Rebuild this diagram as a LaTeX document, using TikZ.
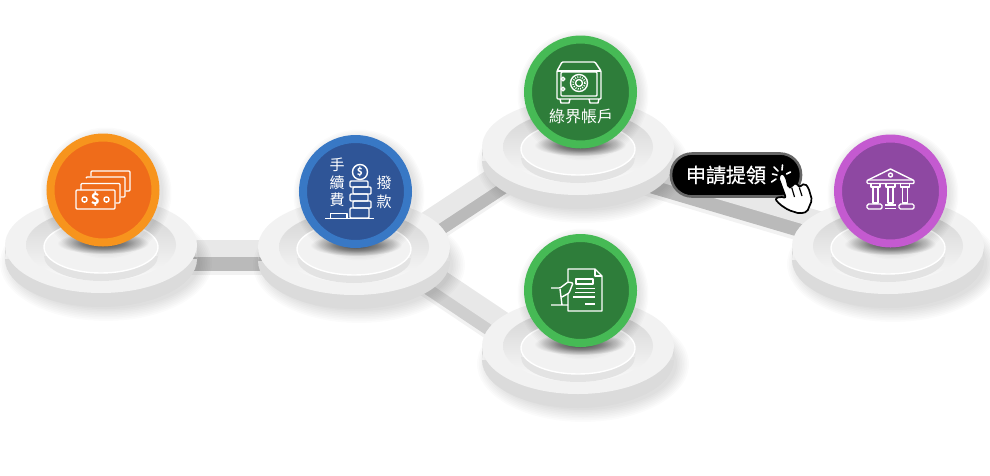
\documentclass[tikz,border=0pt]{standalone}
\usepackage{fontspec}
\newfontfamily\cjk{Noto Sans CJK TC}
\newfontfamily\cjkheavy[FakeBold = 0.6]{Noto Sans CJK TC}
\usetikzlibrary{calc}
\definecolor{moneyring}{HTML}{F7941D}
\definecolor{moneycore}{HTML}{EF6C1A}
\definecolor{feering}{HTML}{3878C5}
\definecolor{feecore}{HTML}{2F5597}
\definecolor{greenring}{HTML}{46BA55}
\definecolor{greencore}{HTML}{2E7D3A}
\definecolor{bankring}{HTML}{C45AD0}
\definecolor{bankcore}{HTML}{8E48A2}

\begin{document}
\begin{tikzpicture}[x = 1pt, y = -1pt,
    ball/.style = {circle, minimum size = 105pt, line width = 8pt, outer sep = 0pt, inner sep = 0pt},
    bartop/.style = {line width = #1, draw = black!9},
    barside/.style = {line width = #1, transform canvas = {yshift = -14pt}},
    barshade/.style = {line width = #1, draw = black, opacity = 0.05, transform canvas = {yshift = -18pt}},
    icon/.style = {draw = white, line width = 1.4pt, line join = round},
    rays/.style = {draw = white, line width = 1.6pt, line cap = round},
    label/.style = {text = white, font = \cjk\fontsize{15}{15}\selectfont, inner sep = 0pt}]
    \useasboundingbox (0, 0) rectangle (990, 475);

    \coordinate (moneybase) at (101, 245);
    \coordinate (feebase) at (354, 247);
    \coordinate (safebase) at (578, 147);
    \coordinate (formbase) at (578, 346);
    \coordinate (bankbase) at (888, 246);

    \coordinate (moneyout) at (150, 248.5);
    \coordinate (feein) at (300, 248.5);
    \coordinate (feeup) at (400, 238.3);
    \coordinate (safein) at (530, 152.6);
    \coordinate (feedown) at (400, 252);
    \coordinate (formin) at (530, 339);
    \coordinate (safeout) at (622, 161.8);
    \coordinate (bankin) at (850, 229);

    \draw [barshade = 17pt] (moneyout) -- (feein);
    \draw [barshade = 18.5pt] (feeup) -- (safein);
    \draw [barshade = 19pt] (feedown) -- (formin);
    \draw [barshade = 17.5pt] (safeout) -- (bankin);
    \draw [barside = 17pt, draw = black!27] (moneyout) -- (feein);
    \draw [barside = 18.5pt, draw = black!27] (feeup) -- (safein);
    \draw [barside = 19pt, draw = black!19] (feedown) -- (formin);
    \draw [barside = 17.5pt, draw = black!27] (safeout) -- (bankin);
    \draw [bartop = 17pt] (moneyout) -- (feein);
    \draw [bartop = 18.5pt] (feeup) -- (safein);
    \draw [bartop = 19pt] (feedown) -- (formin);
    \draw [bartop = 17.5pt] (safeout) -- (bankin);

    \foreach \p in {moneybase, feebase, safebase, formbase, bankbase} {
        \begin{scope}[shift = {(\p)}]
            \foreach \k in {0, ..., 7}
                \fill [black, opacity = 0.014] (5, 18) ellipse [x radius = 94 + \k * 1.7, y radius = 46 + \k * 1.7];
            \fill [black!14] (-96, 0) rectangle (96, 14) (0, 14) ellipse [x radius = 96, y radius = 48];
            \fill [black!5] (0, 0) ellipse [x radius = 96, y radius = 48];
            \shade [top color = black!17, bottom color = black!2] (0, 0) ellipse [x radius = 75, y radius = 36];
            \fill [black!11] (-57, 3) rectangle (57, 11) (0, 11) ellipse [x radius = 57, y radius = 25];
            \draw [white, fill = black!5, line width = 1.4pt] (0, 2) ellipse [x radius = 57, y radius = 26];
            \shade [inner color = black!75, outer color = black!5] (2, -2) ellipse [x radius = 46, y radius = 11];
            \foreach \k in {0, ..., 6}
                \fill [black, opacity = 0.016] (5, -52) circle [radius = 57 + \k * 1.4];
        \end{scope}
    }

    \node (moneyball) [ball, draw = moneyring, fill = moneycore] at ($(moneybase) + (2, -55)$) {};
    \node (feeball) [ball, draw = feering, fill = feecore] at ($(feebase) + (1.5, -55.5)$) {};
    \node (safeball) [ball, draw = greenring, fill = greencore] at ($(safebase) + (2.5, -55)$) {};
    \node (formball) [ball, draw = greenring, fill = greencore] at ($(formbase) + (2.5, -55.5)$) {};
    \node (bankball) [ball, draw = bankring, fill = bankcore] at ($(bankbase) + (2.5, -55)$) {};

    % banknotes
    \draw [icon, rounded corners = 1pt] (91, 176) -- (91, 171) -- (130, 171) -- (130, 191) -- (125.5, 191);
    \draw [icon, rounded corners = 1pt] (86, 178) -- (86, 177) -- (125, 177) -- (125, 197) -- (120.5, 197);
    \draw [icon, rounded corners = 1pt] (81, 190) -- (81, 183.5) -- (120, 183.5) -- (120, 203) -- (115.5, 203);
    \draw [icon, rounded corners = 1pt] (76, 190) rectangle (115, 209);
    \draw [icon] (84.5, 199.5) circle [radius = 2.6] (106.5, 199.5) circle [radius = 2.6];
    \node (dollar) [label, font = \cjk\bfseries\fontsize{15}{15}\selectfont] at (95.5, 199.5) {\$};

    % coins
    \node (feeone) [label] at (337, 165) {手};
    \node (feetwo) [label] at (337, 182.5) {續};
    \node (feethree) [label] at (337, 200) {費};
    \node (drawone) [label] at (384, 183) {撥};
    \node (drawtwo) [label] at (384, 201.5) {款};
    \draw [icon] (360, 172) circle [radius = 7.5];
    \node (coin) [label, font = \cjk\bfseries\fontsize{10}{10}\selectfont] at (360, 172) {\$};
    \draw [icon, rounded corners = 1pt] (350, 181) rectangle (368, 187);
    \draw [icon, rounded corners = 1pt] (353, 187) rectangle (371, 194);
    \draw [icon, rounded corners = 1pt] (350, 194) rectangle (368, 201);
    \draw [icon, rounded corners = 1pt] (353, 201) rectangle (371, 208);
    \draw [icon, rounded corners = 1pt] (350, 208) rectangle (369, 218);
    \draw [icon] (330.5, 218) -- (330.5, 213.5) -- (347, 213.5) -- (347, 218);
    \draw [icon] (325, 218.5) -- (374, 218.5);

    % safe
    \draw [icon, rounded corners = 1pt] (557, 71) -- (562, 62) -- (595, 62) -- (601, 71) -- (601, 99) -- (557, 99) -- cycle;
    \draw [icon] (557, 71) -- (601, 71);
    \draw [icon, rounded corners = 1pt] (561, 72) rectangle (597, 96);
    \draw [icon] (563, 79) circle [radius = 1.8] (563, 89) circle [radius = 1.8];
    \draw [icon] (579, 83) circle [radius = 8.5] (579, 83) circle [radius = 3.5];
    \draw [icon, line width = 1.6pt, dash pattern = on 1pt off 1.4pt] (579, 83) circle [radius = 6];
    \draw [icon] (560, 99) -- (561, 103) -- (569, 103) -- (570, 99);
    \draw [icon] (589, 99) -- (590, 103) -- (598, 103) -- (599, 99);
    \node (safetext) [label, font = \cjk\fontsize{16}{16}\selectfont] at (581, 116) {綠界帳戶};

    % form in hand
    \draw [icon] (568, 282) -- (568, 269) -- (595, 269) -- (602, 276) -- (602, 311) -- (568, 311) -- (568, 294);
    \draw [icon] (595, 269) -- (595, 276) -- (602, 276);
    \draw [icon] (576, 279) rectangle (593, 284);
    \draw [icon] (576, 288.3) -- (595, 288.3) (575, 292.7) -- (595, 292.7) (573, 297) -- (595, 297) (585, 304) -- (595, 304);
    \draw [icon, rounded corners = 1pt] (551, 288) -- (560, 288) -- (568, 282) -- (573, 283) -- (569, 293) -- (562, 297) (560, 289) -- (562, 305) (551, 305) -- (568, 305);

    % bank
    \draw [icon] (868, 180) -- (890.5, 169) -- (913, 180);
    \draw [icon] (890.5, 175) circle [radius = 2];
    \draw [icon, rounded corners = 1pt] (867, 180) rectangle (914, 183.5);
    \draw [icon] (873, 187) rectangle (878, 203) (888, 187) rectangle (893, 203) (902.5, 187) rectangle (907.5, 203);
    \draw [icon] (871, 183.5) -- (871, 187) -- (880, 187) -- (880, 183.5);
    \draw [icon] (886, 183.5) -- (886, 187) -- (895, 187) -- (895, 183.5);
    \draw [icon] (900.5, 183.5) -- (900.5, 187) -- (909.5, 187) -- (909.5, 183.5);
    \draw [icon, rounded corners = 1.5pt] (867, 204) rectangle (882, 209);
    \draw [icon, rounded corners = 1.5pt] (899, 204) rectangle (914, 209);
    \draw [icon] (885, 205) -- (896, 205) (885, 208.5) -- (896, 208.5);

    \node (drawbutton) [draw = black!60, fill = black, line width = 2.6pt, rounded corners = 21pt, minimum width = 130pt, minimum height = 43pt] at (736, 175) {};
    \node (drawtext) [label, font = \cjkheavy\fontsize{20}{20}\selectfont] at (726, 175) {申請提領};
    \draw [rays] (772.5, 174) -- (777, 175) (774, 167) -- (778, 171) (782.5, 165) -- (782, 170) (790.5, 172) -- (786.5, 174) (771.5, 182) -- (776, 179);
    \draw [draw = black, fill = white, line width = 1.7pt, line join = round, rounded corners = 2pt]
        (778.3, 177) -- (786, 198) -- (780, 196.5) -- (775, 199) -- (780, 204.5) -- (788.3, 210) -- (799.3, 213.5) -- (807, 212) -- (812, 200) -- (808.5, 188) -- (805, 183.5) -- (801.5, 185) -- (799.3, 187.5) -- (796.7, 183) -- (792.7, 184) -- (791.7, 187.5) -- (788.3, 187.5) -- (786, 177) -- (782, 173) -- cycle;
    \draw [black, line width = 1.2pt] (791.7, 187.5) -- (794.5, 197) (799.3, 187.5) -- (802, 196);
\end{tikzpicture}
\end{document}
